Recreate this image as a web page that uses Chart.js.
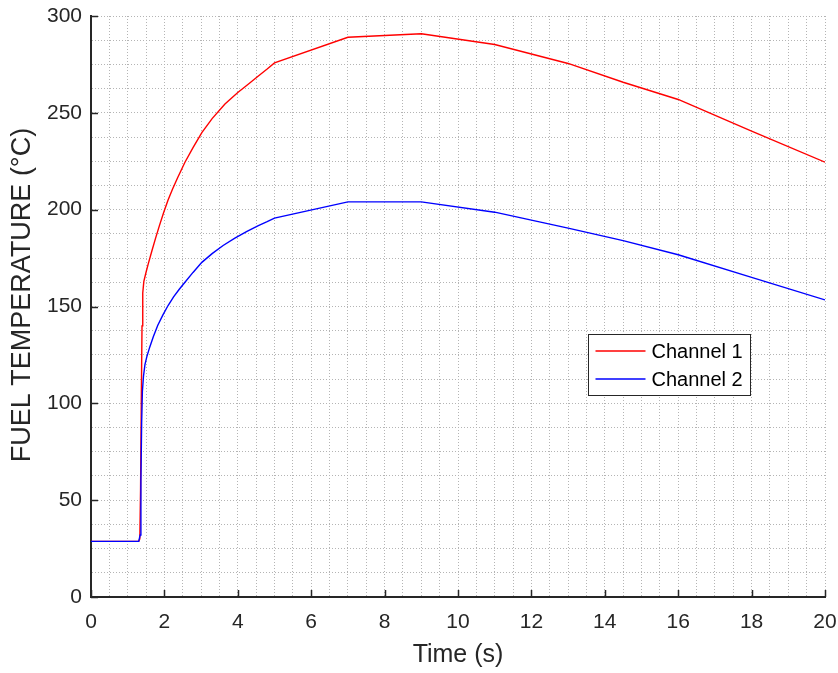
<!DOCTYPE html>
<html>
<head>
<meta charset="utf-8">
<script src="https://cdn.jsdelivr.net/npm/chart.js@4"></script>
<style>
  body { margin: 0; background: #fff; }
  #wrap { width: 838px; height: 673px; }
</style>
</head>
<body>
<div id="wrap"><canvas id="grafico" width="838" height="673"></canvas></div>
<script>
// tempo (s) e temperatura do combustivel (°C) por canal
const tempoCanal1 = [0, 1.30, 1.33, 1.35, 1.37, 1.39, 1.41, 1.44, 1.50, 1.56, 1.66, 1.76, 1.86, 1.98, 2.1, 2.22, 2.36, 2.56, 2.78, 3.02, 3.3, 3.65, 4.0, 4.3, 4.56, 4.8, 5.0, 7.0, 9.0, 11.0, 13.0, 14.5, 16.0, 18.0, 20.0];
const tempCanal1 = [28.7, 28.7, 30, 55, 100, 140, 157, 163, 167.7, 172, 178.8, 185.3, 191.5, 198.5, 205, 210.5, 216.5, 224.5, 232, 239.8, 247, 254.6, 260.5, 265, 269, 272.6, 275.8, 289, 290.8, 285.3, 275.5, 265.8, 256.9, 240.5, 224.5];

const tempoCanal2 = [0, 1.30, 1.34, 1.36, 1.38, 1.40, 1.43, 1.47, 1.52, 1.60, 1.70, 1.82, 1.96, 2.1, 2.25, 2.4, 2.56, 2.78, 3.02, 3.3, 3.6, 3.92, 4.25, 4.56, 4.8, 5.0, 7.0, 9.0, 11.0, 13.0, 14.5, 16.0, 18.0, 20.0];
const tempCanal2 = [28.7, 28.7, 32, 60, 90, 106, 114, 120, 124, 129, 134.5, 140.3, 145.7, 150.5, 155, 158.8, 162.5, 167.6, 172.8, 177.3, 181.5, 185.3, 188.8, 191.8, 193.8, 195.6, 204, 204, 198.7, 190.5, 184, 176.7, 165, 153.4];

const nomesCanais = ["Channel 1", "Channel 2"];
const coresCanais = ["#ff0000", "#0000ff"];

const ticksX = [0, 2, 4, 6, 8, 10, 12, 14, 16, 18, 20];
const ticksY = [0, 50, 100, 150, 200, 250, 300];
const tituloY = "FUEL TEMPERATURE (°C)";

const FONTE = "Arial, 'Liberation Sans', sans-serif";
const COR_EIXO = "#262626";

function pontos(tempos, valores) {
  return tempos.map((t, i) => ({ x: t, y: valores[i] }));
}

// marcas dos ticks para dentro, titulo do eixo y e legenda dentro da area
const extras = {
  id: "extras",
  afterDraw(chart) {
    const { ctx, chartArea, scales } = chart;
    ctx.save();
    ctx.setLineDash([]);
    ctx.strokeStyle = COR_EIXO;
    ctx.lineWidth = 1.5;
    ctx.beginPath();
    ticksX.forEach((v) => {
      const px = Math.round(scales.x.getPixelForValue(v)) + 0.5;
      ctx.moveTo(px, chartArea.bottom);
      ctx.lineTo(px, chartArea.bottom - 7);
    });
    ticksY.forEach((v) => {
      const py = Math.round(scales.y.getPixelForValue(v)) + 0.5;
      ctx.moveTo(chartArea.left, py);
      ctx.lineTo(chartArea.left + 7, py);
    });
    ctx.stroke();

    // titulo do eixo y
    ctx.save();
    ctx.translate(23, chartArea.top + 279);
    ctx.rotate(-Math.PI / 2);
    ctx.font = "27px " + FONTE;
    ctx.fillStyle = COR_EIXO;
    ctx.textAlign = "center";
    ctx.textBaseline = "middle";
    ctx.fillText(tituloY, 0, 0);
    ctx.restore();

    // legenda
    const lx = chartArea.left + 497.5;
    const ly = chartArea.top + 318.5;
    ctx.fillStyle = "#fff";
    ctx.fillRect(lx, ly, 162, 61);
    ctx.strokeStyle = COR_EIXO;
    ctx.lineWidth = 1;
    ctx.strokeRect(lx, ly, 162, 61);
    ctx.font = "20px " + FONTE;
    ctx.textBaseline = "middle";
    nomesCanais.forEach((nome, i) => {
      const y = ly + 16.5 + i * 28;
      ctx.beginPath();
      ctx.strokeStyle = coresCanais[i];
      ctx.lineWidth = 1.4;
      ctx.moveTo(lx + 7, y);
      ctx.lineTo(lx + 57, y);
      ctx.stroke();
      ctx.fillStyle = "#000";
      ctx.fillText(nome, lx + 63, y + 1.5);
    });
    ctx.restore();
  },
};

const grade = {
  color: "#b4b4b4",
  lineWidth: 1,
  drawTicks: false,
};
const borda = { display: true, color: COR_EIXO, width: 2, dash: [1, 2] };

new Chart(document.getElementById("grafico").getContext("2d"), {
  type: "line",
  data: {
    datasets: [
      {
        label: nomesCanais[0],
        data: pontos(tempoCanal1, tempCanal1),
        borderColor: coresCanais[0],
        borderWidth: 1.4,
        pointRadius: 0,
        tension: 0,
        order: 1,
      },
      {
        label: nomesCanais[1],
        data: pontos(tempoCanal2, tempCanal2),
        borderColor: coresCanais[1],
        borderWidth: 1.4,
        pointRadius: 0,
        tension: 0,
        order: 0,
      },
    ],
  },
  options: {
    responsive: false,
    animation: false,
    devicePixelRatio: 1,
    layout: { padding: { top: 16, right: 13, left: 0, bottom: 0 } },
    plugins: {
      legend: { display: false },
      tooltip: { enabled: false },
    },
    scales: {
      x: {
        type: "linear",
        min: 0,
        max: 20,
        grid: grade,
        border: borda,
        ticks: {
          stepSize: 0.5,
          autoSkip: false,
          maxTicksLimit: 100,
          maxRotation: 0,
          padding: 13,
          color: COR_EIXO,
          font: { family: FONTE, size: 21 },
          callback: (v) => (v % 2 === 0 ? v : ""),
        },
        title: {
          display: true,
          text: "Time (s)",
          color: COR_EIXO,
          font: { family: FONTE, size: 25 },
          padding: { top: 0, bottom: 3 },
        },
        afterFit: (s) => {
          s.height = 76;
          s.paddingLeft = 0;
          s.paddingRight = 0;
        },
      },
      y: {
        min: 0,
        max: 300,
        grid: grade,
        border: borda,
        ticks: {
          stepSize: 12.5,
          autoSkip: false,
          maxTicksLimit: 100,
          padding: 9,
          color: COR_EIXO,
          font: { family: FONTE, size: 21 },
          callback: (v) => (v % 50 === 0 ? v : ""),
        },
        afterFit: (s) => {
          s.width = 91;
          s.paddingTop = 0;
          s.paddingBottom = 0;
        },
      },
    },
  },
  plugins: [extras],
});
</script>
</body>
</html>
